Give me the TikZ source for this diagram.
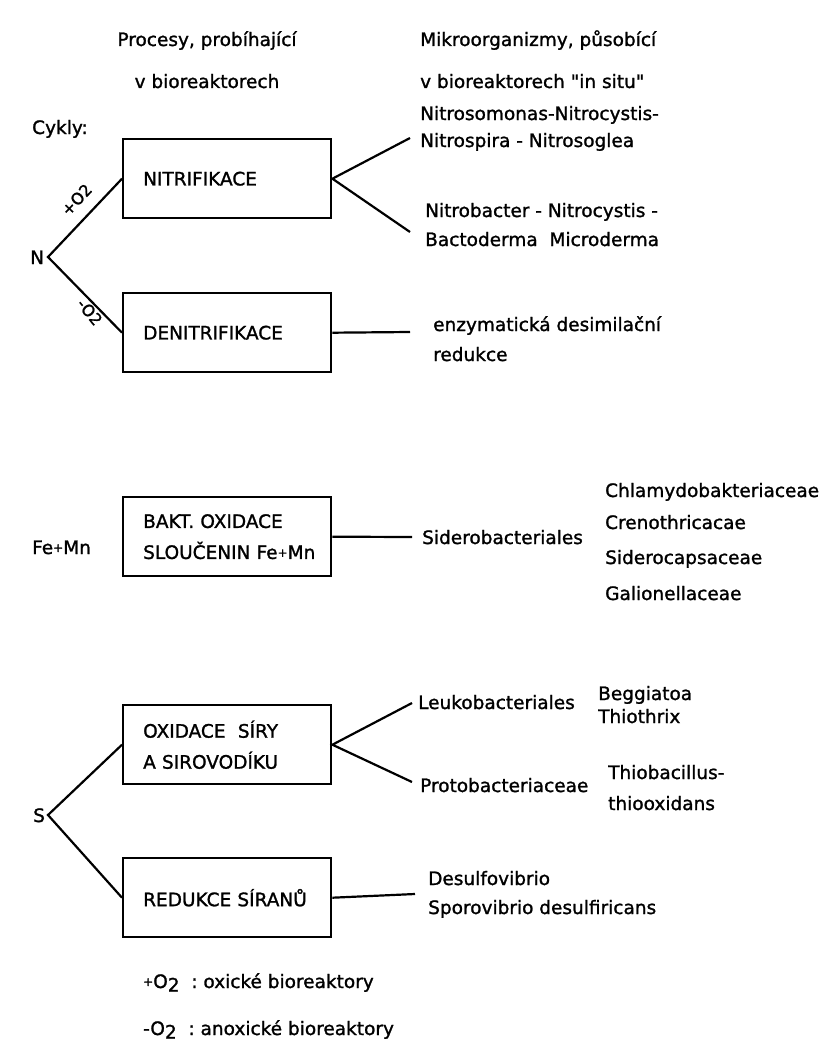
\documentclass[tikz,border=0pt]{standalone}
\usepackage{fontspec}
\setmainfont{DejaVu Sans}
\newcommand{\pl}{\raisebox{0.2ex}{\fontsize{12}{12}\selectfont+}}
\newcommand{\txtfont}[1]{\fontsize{#1}{31}\selectfont\addfontfeature{FakeBold=1.3}}
\begin{document}
\begin{tikzpicture}[x=1pt,y=-1pt,
  txt/.style={anchor=base west,inner sep=0pt,font=\txtfont{18.5}},
  proc/.style={draw,line width=2.4pt,anchor=north west,minimum width=208pt,
    minimum height=79pt,text width=168pt,inner xsep=20pt,align=left,
    font=\txtfont{18.5}},
  conn/.style={line width=2.2pt}]
\useasboundingbox (0,0) rectangle (828,1041);

% Headings
\node[txt,anchor=base] (hproc) at (207,46) {Procesy, probíhající};
\node[txt,anchor=base] (hbio) at (207,88) {v bioreaktorech};
\node[txt] (hmik) at (420,46) {Mikroorganizmy, působící};
\node[txt] (hsitu) at (420,88) {v bioreaktorech \textquotedbl in situ\textquotedbl};
\node[txt] (cykly) at (32,134) {Cykly:};

% Nitrogen cycle
\node[txt] (ncyc) at (30,264) {N};
\coordinate (nv) at (48,257);
\node[proc] (nitri) at (122,138) {NITRIFIKACE};
\node[proc] (denitri) at (122,292) {DENITRIFIKACE};
\draw[conn] (nitri.west) -- (nv) -- (denitri.west);
\node[txt,anchor=south,rotate=47,font=\txtfont{16}] (plo) at (81,204) {+O2};
\node[txt,anchor=south,rotate=-50,font=\txtfont{16}] (mio) at (85,316) {-O2};

\coordinate (nta) at (410,138);
\coordinate (ntb) at (410,232);
\draw[conn] (nta) -- (nitri.east) -- (ntb);
\node[txt] (nso) at (420,120) {Nitrosomonas-Nitrocystis-};
\node[txt] (nsp) at (420,147) {Nitrospira - Nitrosoglea};
\node[txt] (nba) at (425,217) {Nitrobacter - Nitrocystis -};
\node[txt] (bde) at (425,246) {Bactoderma\ \ Microderma};

\coordinate (dne) at (410,332);
\draw[conn] (denitri.east) -- (dne);
\node[txt] (enz) at (433,331) {enzymatická desimilační};
\node[txt] (red) at (433,361) {redukce};

% Iron and manganese
\node[txt] (femn) at (32,554) {Fe\pl Mn};
\node[proc] (bakt) at (122,496) {BAKT. OXIDACE\\\mbox{SLOUČENIN Fe\pl Mn}};
\coordinate (bke) at (412,537);
\draw[conn] (bakt.east) -- (bke);
\node[txt] (sid) at (422,544) {Siderobacteriales};
\node[txt] (chl) at (605,497) {Chlamydobakteriaceae};
\node[txt] (cre) at (605,529) {Crenothricacae};
\node[txt] (sca) at (605,564) {Siderocapsaceae};
\node[txt] (gal) at (605,600) {Galionellaceae};

% Sulphur cycle
\node[txt] (scyc) at (33,822) {S};
\coordinate (sv) at (48,815);
\node[proc] (oxid) at (122,704) {OXIDACE\ \ SÍRY\\A SIROVODÍKU};
\node[proc] (redsir) at (122,857) {\mbox{REDUKCE SÍRANŮ}};
\draw[conn] (oxid.west) -- (sv) -- (redsir.west);

\coordinate (oxa) at (412,703);
\coordinate (oxb) at (412,782);
\draw[conn] (oxa) -- (oxid.east) -- (oxb);
\node[txt] (leu) at (418,709) {Leukobacteriales};
\node[txt] (beg) at (598,700) {Beggiatoa};
\node[txt] (thx) at (598,723) {Thiothrix};
\node[txt] (pro) at (420,792) {Protobacteriaceae};
\node[txt] (tba) at (608,779) {Thiobacillus-};
\node[txt] (tox) at (608,810) {thiooxidans};

\coordinate (rse) at (415,894);
\draw[conn] (redsir.east) -- (rse);
\node[txt] (dsv) at (428,885) {Desulfovibrio};
\node[txt] (spv) at (428,914) {Sporovibrio desulfiricans};

% Legend
\node[txt] (lgox) at (143,988) {\pl O\raisebox{-0.35ex}{2}\ \ :\ oxické bioreaktory};
\node[txt] (lgan) at (143,1035) {-O\raisebox{-0.35ex}{2}\ \ :\ anoxické bioreaktory};
\end{tikzpicture}
\end{document}
